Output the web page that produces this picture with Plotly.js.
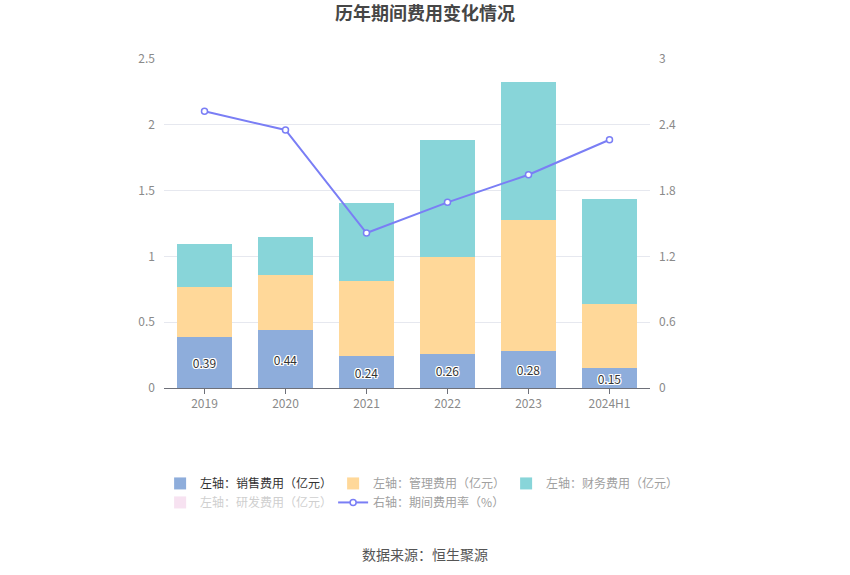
<!DOCTYPE html>
<html>
<head>
<meta charset="utf-8">
<script src="https://cdn.plot.ly/plotly-3.0.1.min.js"></script>
<style>html,body{margin:0;padding:0;background:#fff;}#chart{width:850px;height:575px;}</style>
</head>
<body>
<div id="chart"></div>
<script>
var categories = ['2019', '2020', '2021', '2022', '2023', '2024H1'];
var salesExpense = [0.39, 0.44, 0.24, 0.26, 0.28, 0.15];
var adminExpense = [0.375, 0.416, 0.576, 0.733, 0.994, 0.486];
var financeExpense = [0.33, 0.289, 0.587, 0.891, 1.049, 0.798];
var rdExpense = [null, null, null, null, null, null];
var expenseRate = [2.523, 2.353, 1.413, 1.693, 1.945, 2.264];
var leftTicks = [0, 0.5, 1, 1.5, 2, 2.5];
var leftTickText = ['0', '0.5', '1', '1.5', '2', '2.5'];
var rightTicks = [0, 0.6, 1.2, 1.8, 2.4, 3];
var rightTickText = ['0', '0.6', '1.2', '1.8', '2.4', '3'];

var FONT = '"Noto Sans CJK SC", "Noto Sans", sans-serif';
var grey = function (s) { return '<span style="color:#a0a0a0">' + s + '</span>'; };

var traces = [
  {
    type: 'bar', name: '左轴：销售费用（亿元）', x: categories, y: salesExpense,
    marker: {color: '#8eaddb'},
    text: salesExpense.map(function (v) { return v.toFixed(2); }),
    textposition: 'inside', insidetextanchor: 'middle', constraintext: 'none',
    textfont: {color: '#333', size: 12, family: FONT,
      shadow: '1px 1px 0 #fff, -1px -1px 0 #fff, 1px -1px 0 #fff, -1px 1px 0 #fff, 0 1px 0 #fff, 0 -1px 0 #fff, 1px 0 0 #fff, -1px 0 0 #fff'},
    hoverinfo: 'skip'
  },
  {
    type: 'bar', name: grey('左轴：管理费用（亿元）'), x: categories, y: adminExpense,
    marker: {color: '#ffd899'}, hoverinfo: 'skip'
  },
  {
    type: 'bar', name: grey('左轴：财务费用（亿元）'), x: categories, y: financeExpense,
    marker: {color: '#88d5d9'}, hoverinfo: 'skip'
  },
  {
    type: 'bar', name: grey('左轴：研发费用（亿元）'), x: categories, y: rdExpense,
    marker: {color: '#f0c6e4'}, visible: 'legendonly', hoverinfo: 'skip'
  },
  {
    type: 'scatter', mode: 'lines+markers', name: grey('右轴：期间费用率（%）'),
    x: categories, y: expenseRate, yaxis: 'y2',
    line: {color: '#7a7ef5', width: 2},
    marker: {symbol: 'circle', size: 6, color: '#fff', line: {color: '#7a7ef5', width: 1.5}},
    hoverinfo: 'skip'
  }
];

var layout = {
  width: 850, height: 575,
  margin: {l: 164, r: 200, t: 59, b: 187},
  paper_bgcolor: '#fff', plot_bgcolor: '#fff',
  font: {family: FONT, color: '#999', size: 12},
  barmode: 'stack', bargap: 0.31,
  showlegend: true,
  title: {text: '<b>历年期间费用变化情况</b>', x: 0.5, xanchor: 'center', y: 0.976, yanchor: 'middle',
    font: {size: 18, color: '#464646', family: FONT}},
  xaxis: {
    type: 'category', showgrid: false, showline: true, linecolor: '#6e7079', linewidth: 1,
    ticks: 'outside', ticklen: 5, tickcolor: '#6e7079',
    tickfont: {size: 12, color: '#8a8a8a'}, fixedrange: true
  },
  yaxis: {
    range: [0, 2.5], tickvals: leftTicks, ticktext: leftTickText,
    showgrid: true, gridcolor: '#e6e8ef', zeroline: false, showline: false,
    ticks: '', ticklabelstandoff: 8,
    tickfont: {size: 12, color: '#8a8a8a'}, fixedrange: true
  },
  yaxis2: {
    overlaying: 'y', side: 'right', range: [0, 3], tickvals: rightTicks, ticktext: rightTickText,
    showgrid: false, zeroline: false, showline: false, ticks: '', ticklabelstandoff: 8,
    tickfont: {size: 12, color: '#8a8a8a'}, fixedrange: true
  },
  legend: {
    orientation: 'h',
    x: -0.008, xanchor: 'left', y: -0.246, yanchor: 'top',
    entrywidth: 128, entrywidthmode: 'pixels', traceorder: 'normal',
    font: {size: 12, color: '#333', family: FONT}, itemclick: false, itemdoubleclick: false,
    tracegroupgap: 0
  },
  annotations: [
    {text: '数据来源：恒生聚源', xref: 'paper', yref: 'paper', x: 0.537, y: -0.505,
      xanchor: 'center', yanchor: 'middle', showarrow: false,
      font: {size: 14, color: '#555', family: FONT}}
  ]
};

Plotly.newPlot('chart', traces, layout, {displayModeBar: false, staticPlot: true});
</script>
</body>
</html>
